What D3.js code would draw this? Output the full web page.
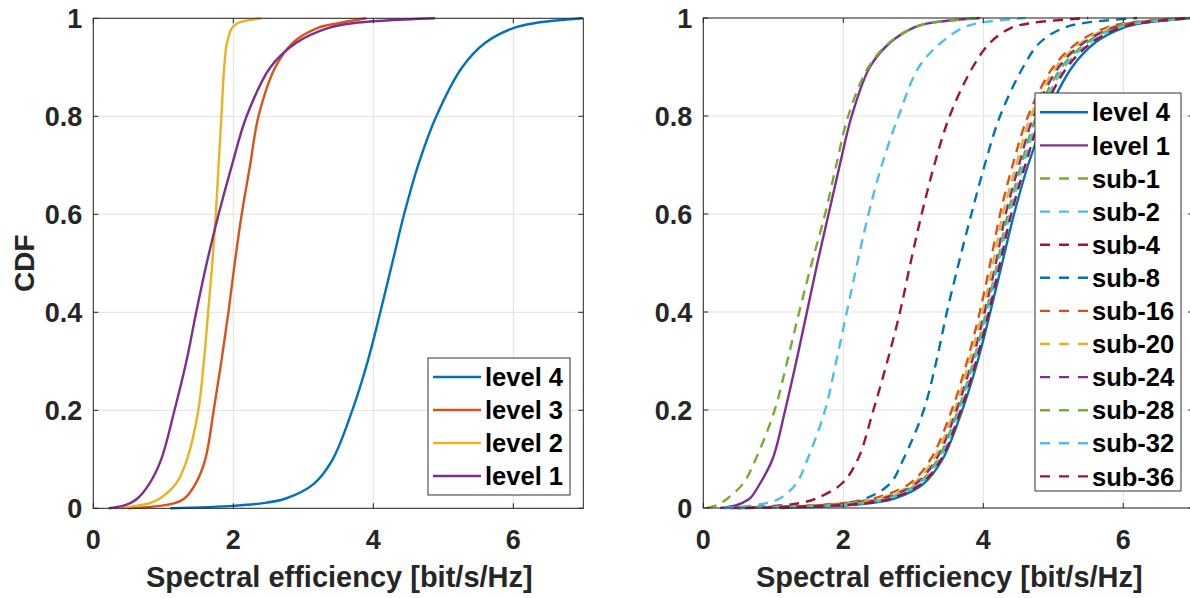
<html>
  <head>
    <meta charset="utf-8">
    <script src="https://d3js.org/d3.v7.min.js"></script>
    <style>
      body { margin: 0; background: #fff; }
      text { font-family: "Liberation Sans", Arial, Helvetica, sans-serif; font-weight: bold; }
    </style>
  </head>
  <body>
    <div id="chart"></div>
  </body>

  <script>
    // CDF levels shared by every curve
    const probs = [0, 0.005, 0.01, 0.02, 0.05, 0.1, 0.2, 0.3, 0.4, 0.5, 0.6, 0.7, 0.8, 0.9, 0.95, 0.98, 0.99, 1]

    // spectral efficiency read at each CDF level (left panel)
    const level4 = [1.1, 2.0, 2.4, 2.75, 3.15, 3.42, 3.7, 3.92, 4.1, 4.27, 4.44, 4.64, 4.9, 5.27, 5.6, 6.0, 6.3, 6.99]
    const level3 = [0.5, 0.95, 1.15, 1.3, 1.46, 1.6, 1.72, 1.83, 1.93, 2.02, 2.12, 2.24, 2.36, 2.6, 2.85, 3.2, 3.5, 3.9]
    const level2 = [0.4, 0.6, 0.8, 0.95, 1.18, 1.34, 1.5, 1.58, 1.64, 1.7, 1.75, 1.79, 1.83, 1.87, 1.91, 1.98, 2.06, 2.4]
    const level1 = [0.22, 0.42, 0.52, 0.63, 0.8, 0.97, 1.16, 1.33, 1.47, 1.62, 1.79, 1.98, 2.19, 2.53, 2.9, 3.35, 3.7, 4.88]

    // right panel
    const level1b = [0.24, 0.45, 0.55, 0.67, 0.81, 0.99, 1.17, 1.33, 1.48, 1.63, 1.79, 1.95, 2.12, 2.38, 2.67, 3.0, 3.25, 3.95]
    const sub1  = [0.05, 0.18, 0.25, 0.35, 0.57, 0.75, 1.02, 1.2, 1.37, 1.55, 1.74, 1.9, 2.07, 2.36, 2.66, 3.0, 3.25, 3.95]
    const sub2  = [0.3, 0.7, 0.9, 1.1, 1.33, 1.49, 1.74, 1.9, 2.05, 2.2, 2.36, 2.55, 2.79, 3.08, 3.4, 3.71, 3.95, 4.6]
    const sub4  = [0.5, 1.1, 1.38, 1.62, 1.98, 2.21, 2.43, 2.63, 2.81, 2.96, 3.12, 3.3, 3.52, 3.85, 4.1, 4.4, 4.7, 5.5]
    const sub8  = [0.4, 1.6, 2.0, 2.33, 2.67, 2.86, 3.15, 3.33, 3.48, 3.65, 3.83, 4.02, 4.24, 4.57, 4.81, 5.15, 5.45, 6.2]
    const sub16 = [0.5, 1.5, 2.0, 2.45, 2.95, 3.25, 3.55, 3.77, 3.95, 4.1, 4.24, 4.42, 4.64, 5.0, 5.35, 5.75, 6.05, 6.9]
    const sub20 = [0.6, 1.6, 2.1, 2.52, 3.0, 3.29, 3.59, 3.8, 3.99, 4.14, 4.28, 4.47, 4.68, 5.04, 5.4, 5.8, 6.1, 6.9]
    const sub24 = [0.4, 1.7, 2.2, 2.58, 3.04, 3.33, 3.62, 3.84, 4.02, 4.18, 4.32, 4.51, 4.72, 5.08, 5.44, 5.85, 6.15, 6.95]
    const sub28 = [0.5, 1.75, 2.25, 2.62, 3.07, 3.35, 3.64, 3.86, 4.04, 4.2, 4.35, 4.54, 4.76, 5.12, 5.48, 5.88, 6.2, 6.95]
    const sub32 = [0.3, 1.8, 2.3, 2.66, 3.1, 3.38, 3.66, 3.88, 4.06, 4.22, 4.38, 4.57, 4.8, 5.16, 5.52, 5.92, 6.22, 6.99]
    const sub36 = [0.6, 1.85, 2.35, 2.7, 3.12, 3.4, 3.68, 3.9, 4.08, 4.24, 4.4, 4.6, 4.83, 5.2, 5.55, 5.95, 6.25, 6.99]

    const xTicks = [0, 2, 4, 6]
    const yTicks = [0, 0.2, 0.4, 0.6, 0.8, 1]
    const xTitle = "Spectral efficiency [bit/s/Hz]"
    const yTitle = "CDF"

    // matlab colours
    const C = {blue: "#0072BD", orange: "#D95319", yellow: "#EDB120", purple: "#7E2F8E",
               green: "#77AC30", cyan: "#4DBEEE", red: "#A2142F"}

    const leftSeries = [
      {name: "level 4", xs: level4, color: C.blue},
      {name: "level 3", xs: level3, color: C.orange},
      {name: "level 2", xs: level2, color: C.yellow},
      {name: "level 1", xs: level1, color: C.purple},
    ]
    const rightSeries = [
      {name: "level 4", xs: level4, color: C.blue},
      {name: "level 1", xs: level1b, color: C.purple},
      {name: "sub-1", xs: sub1, color: C.green, dash: true},
      {name: "sub-2", xs: sub2, color: C.cyan, dash: true},
      {name: "sub-4", xs: sub4, color: C.red, dash: true},
      {name: "sub-8", xs: sub8, color: C.blue, dash: true},
      {name: "sub-16", xs: sub16, color: C.orange, dash: true},
      {name: "sub-20", xs: sub20, color: C.yellow, dash: true},
      {name: "sub-24", xs: sub24, color: C.purple, dash: true},
      {name: "sub-28", xs: sub28, color: C.green, dash: true},
      {name: "sub-32", xs: sub32, color: C.cyan, dash: true},
      {name: "sub-36", xs: sub36, color: C.red, dash: true},
    ]

    const svg = d3.select("#chart").append("svg")
      .attr("width", 1190)
      .attr("height", 598)

    const axisColor = "#262626"

    function drawPanel(o) {
      const x = d3.scaleLinear().domain([0, 7]).range([o.left, o.right])
      const y = d3.scaleLinear().domain([0, 1]).range([o.bottom, o.top])
      const g = svg.append("g")

      // grid
      g.selectAll(".gx").data(xTicks).join("line")
        .attr("x1", d => x(d)).attr("x2", d => x(d))
        .attr("y1", o.top).attr("y2", o.bottom)
        .attr("stroke", "#e2e2e2").attr("stroke-width", 1)
      g.selectAll(".gy").data(yTicks).join("line")
        .attr("class", "gy")
        .attr("x1", o.left).attr("x2", o.right)
        .attr("y1", d => y(d)).attr("y2", d => y(d))
        .attr("stroke", "#e2e2e2").attr("stroke-width", 1)

      // curves
      const line = d3.line()
        .x(d => x(d[0]))
        .y(d => y(d[1]))
        .curve(d3.curveCatmullRom.alpha(0.5))
      o.series.forEach(s => {
        const pts = s.xs.map((v, i) => [v, probs[i]])
        g.append("path")
          .attr("d", line(pts))
          .attr("fill", "none")
          .attr("stroke", s.color)
          .attr("stroke-width", 2.4)
          .attr("stroke-dasharray", s.dash ? "10,7" : null)
          .attr("stroke-linejoin", "round")
      })

      // box + inward ticks
      g.append("rect")
        .attr("x", o.left).attr("y", o.top)
        .attr("width", o.right - o.left).attr("height", o.bottom - o.top)
        .attr("fill", "none").attr("stroke", axisColor).attr("stroke-width", 1)
      const tl = 5
      xTicks.forEach(t => {
        g.append("line").attr("x1", x(t)).attr("x2", x(t)).attr("y1", o.bottom).attr("y2", o.bottom - tl).attr("stroke", axisColor)
        g.append("line").attr("x1", x(t)).attr("x2", x(t)).attr("y1", o.top).attr("y2", o.top + tl).attr("stroke", axisColor)
      })
      yTicks.forEach(t => {
        g.append("line").attr("x1", o.left).attr("x2", o.left + tl).attr("y1", y(t)).attr("y2", y(t)).attr("stroke", axisColor)
        g.append("line").attr("x1", o.right).attr("x2", o.right - tl).attr("y1", y(t)).attr("y2", y(t)).attr("stroke", axisColor)
      })

      // tick labels
      g.selectAll(".xl").data(xTicks).join("text")
        .attr("x", d => x(d)).attr("y", o.bottom + 41)
        .attr("text-anchor", "middle")
        .attr("font-size", 27).attr("fill", axisColor)
        .text(d => d)
      g.selectAll(".yl").data(yTicks).join("text")
        .attr("x", o.left - 11).attr("y", d => y(d))
        .attr("dy", "0.36em")
        .attr("text-anchor", "end")
        .attr("font-size", 27).attr("fill", axisColor)
        .text(d => d)

      // axis titles
      g.append("text")
        .attr("x", (o.left + o.right) / 2 + 1).attr("y", 587)
        .attr("text-anchor", "middle")
        .attr("font-size", 29).attr("fill", axisColor)
        .text(xTitle)
      if (o.yTitle) {
        g.append("text")
          .attr("transform", `translate(34, ${(o.top + o.bottom) / 2}) rotate(-90)`)
          .attr("text-anchor", "middle")
          .attr("font-size", 28).attr("fill", axisColor)
          .text(o.yTitle)
      }

      // legend
      const L = o.legend
      const lg = g.append("g")
      lg.append("rect")
        .attr("x", L.x).attr("y", L.y)
        .attr("width", L.w).attr("height", L.h)
        .attr("fill", "white").attr("stroke", "#333").attr("stroke-width", 1)
      o.series.forEach((s, i) => {
        const cy = L.row0 + i * L.step
        lg.append("line")
          .attr("x1", L.x + 5).attr("x2", L.x + 53)
          .attr("y1", cy).attr("y2", cy)
          .attr("stroke", s.color).attr("stroke-width", 2.4)
          .attr("stroke-dasharray", s.dash ? "10,9" : null)
        lg.append("text")
          .attr("x", L.x + 57).attr("y", cy)
          .attr("dy", "0.36em")
          .attr("font-size", 25.5).attr("fill", "#000")
          .text(s.name)
      })
    }

    drawPanel({left: 93.3, right: 583.3, top: 18.3, bottom: 508.3, series: leftSeries, yTitle: yTitle,
               legend: {x: 428, y: 358, w: 142, h: 137, row0: 377, step: 33}})
    drawPanel({left: 703.3, right: 1193.3, top: 18, bottom: 508, series: rightSeries,
               legend: {x: 1035, y: 93, w: 146, h: 398, row0: 112.3, step: 33.1}})
  </script>
</html>
